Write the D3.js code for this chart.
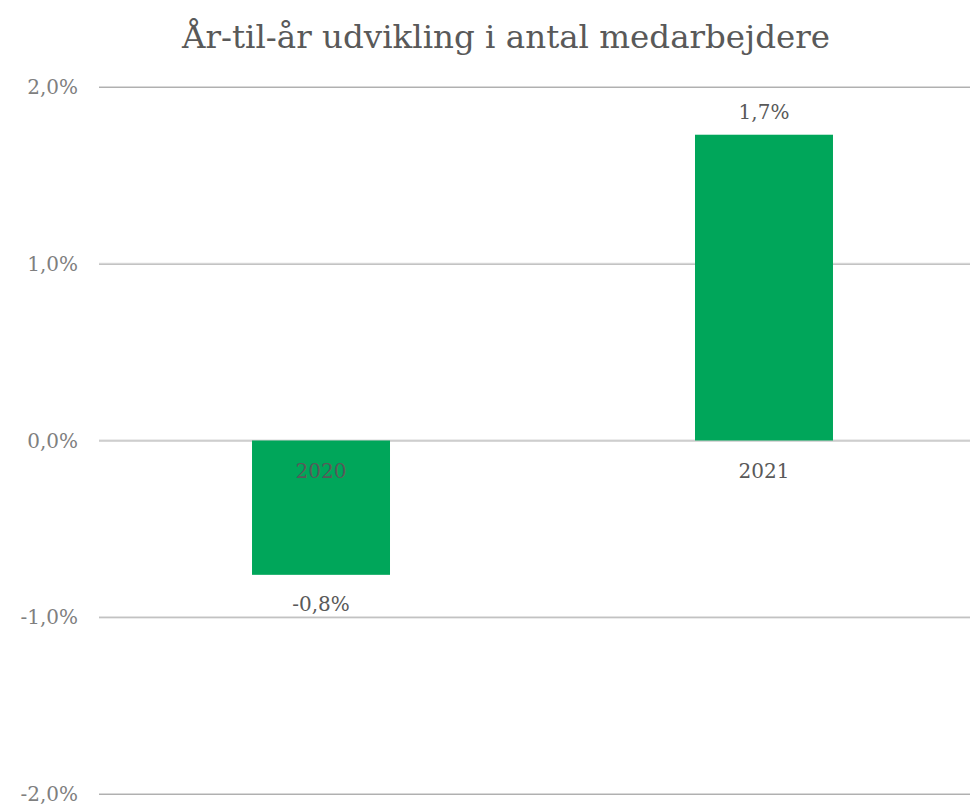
<!DOCTYPE html>
<html><head><meta charset="utf-8">
<script src="https://cdn.jsdelivr.net/npm/d3@7"></script>
<style>body{margin:0;background:#fff}svg{display:block}</style>
</head><body>
<svg id="c" width="970" height="805"></svg>
<script>
const categories = ["2020", "2021"];
const values = [-0.76, 1.73];
const valueLabels = ["-0,8%", "1,7%"];
const tickValues = [-2, -1, 0, 1, 2];
const tickLabels = ["-2,0%", "-1,0%", "0,0%", "1,0%", "2,0%"];
const title = "År-til-år udvikling i antal medarbejdere";

const svg = d3.select("#c");
const font = "'DejaVu Serif', Georgia, serif";
const y = d3.scaleLinear().domain([-2, 2]).range([794, 87]);
const x = d3.scaleBand().domain(categories).range([99.5, 985.5]).paddingInner(0.6885).paddingOuter(0.3443);

svg.append("text").attr("x", 506).attr("y", 48).attr("text-anchor", "middle")
  .attr("font-family", font).attr("font-size", 32.5).attr("fill", "#595959").text(title);

const grid = svg.append("g");
tickValues.forEach((t, i) => {
  grid.append("line").attr("x1", 99).attr("x2", 970).attr("y1", y(t) - 0.5).attr("y2", y(t) - 0.5)
    .attr("stroke", "#d9d9d9").attr("stroke-width", 1);
  grid.append("line").attr("x1", 99).attr("x2", 970).attr("y1", y(t) + 0.5).attr("y2", y(t) + 0.5)
    .attr("stroke", "#b0b0b0").attr("stroke-width", 1);
  svg.append("text").attr("x", 78).attr("y", y(t) + 7).attr("text-anchor", "end")
    .attr("font-family", font).attr("font-size", 20).attr("fill", "#7f7f7f").text(tickLabels[i]);
});

svg.selectAll("rect.bar").data(values).join("rect").attr("class", "bar")
  .attr("x", (d, i) => x(categories[i])).attr("width", x.bandwidth())
  .attr("y", d => y(Math.max(0, d))).attr("height", d => Math.abs(y(d) - y(0)))
  .attr("fill", "#00a65a");

svg.selectAll("text.vl").data(values).join("text").attr("class", "vl")
  .attr("x", (d, i) => x(categories[i]) + x.bandwidth() / 2)
  .attr("y", d => d >= 0 ? y(d) - 16 : y(d) + 36)
  .attr("text-anchor", "middle").attr("font-family", font).attr("font-size", 20)
  .attr("fill", "#595959").text((d, i) => valueLabels[i]);

svg.selectAll("text.cat").data(categories).join("text").attr("class", "cat")
  .attr("x", d => x(d) + x.bandwidth() / 2).attr("y", y(0) + 37)
  .attr("text-anchor", "middle").attr("font-family", font).attr("font-size", 20)
  .attr("fill", "#595959").text(d => d);
</script>
</body></html>
